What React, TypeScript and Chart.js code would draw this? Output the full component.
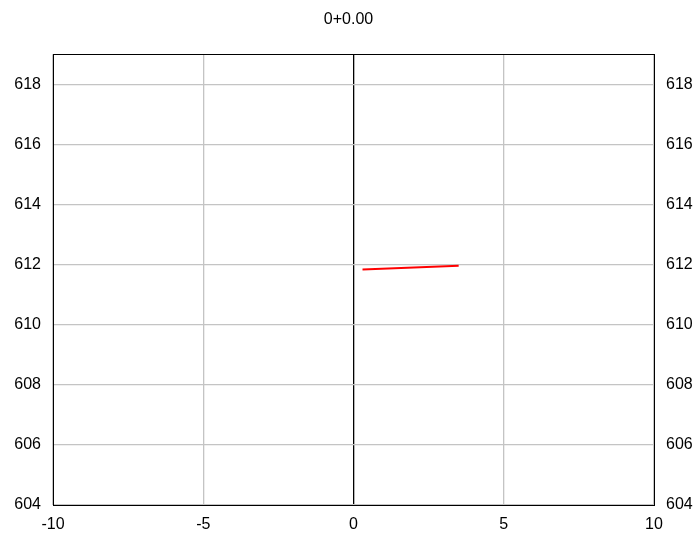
import React, { useEffect, useRef } from "react";
import { Chart, registerables } from "chart.js";

Chart.register(...registerables);

const titleText = "0+0.00";
const xTicks = [-10, -5, 0, 5, 10];
const yTicks = [604, 606, 608, 610, 612, 614, 616, 618];
const lineX = [0.3, 3.5];
const lineY = [611.84, 611.96];

const frame = {
  id: "frame",
  afterDraw(chart: any) {
    const { ctx, chartArea } = chart;
    ctx.save();
    ctx.strokeStyle = "#000";
    ctx.lineWidth = 1;
    ctx.strokeRect(
      Math.round(chartArea.left) + 0.5,
      Math.round(chartArea.top) + 0.5,
      Math.round(chartArea.right - chartArea.left),
      Math.round(chartArea.bottom - chartArea.top)
    );
    ctx.restore();
  },
};

export default function App() {
  const ref = useRef<HTMLCanvasElement>(null);
  useEffect(() => {
    if (!ref.current) return;
    Chart.defaults.font.family = "'Liberation Sans', Arial, sans-serif";
    Chart.defaults.font.size = 16;
    Chart.defaults.color = "#000";
    const yTickFn = (scale: any) => {
      scale.ticks = yTicks.map((v) => ({ value: v }));
    };
    const chart = new Chart(ref.current, {
      type: "line",
      data: {
        datasets: [
          {
            data: lineX.map((x, i) => ({ x, y: lineY[i] })),
            borderColor: "#ff0000",
            borderWidth: 2,
            pointRadius: 0,
            fill: false,
          },
        ],
      },
      options: {
        animation: false,
        responsive: false,
        layout: { padding: 0 },
        plugins: {
          legend: { display: false },
          tooltip: { enabled: false },
          title: {
            display: true,
            text: titleText,
            color: "#000",
            font: { size: 16, weight: "normal" },
            padding: { top: 10, bottom: 25 },
          },
        },
        scales: {
          x: {
            type: "linear",
            min: -10,
            max: 10,
            afterBuildTicks: (scale: any) => {
              scale.ticks = xTicks.map((v) => ({ value: v }));
            },
            afterFit: (scale: any) => {
              scale.height = 31;
            },
            ticks: { padding: 10, maxRotation: 0 },
            grid: {
              drawTicks: false,
              color: (c: any) => (c.tick && c.tick.value === 0 ? "#000" : "#c4c4c4"),
              lineWidth: 1.3,
            },
            border: { display: true, color: "#000" },
          },
          y: {
            type: "linear",
            position: "left",
            min: 604,
            max: 619,
            afterBuildTicks: yTickFn,
            afterFit: (scale: any) => {
              scale.width = 53;
            },
            ticks: { padding: 12 },
            grid: { drawTicks: false, color: "#c4c4c4", lineWidth: 1.3 },
            border: { display: true, color: "#000" },
          },
          y2: {
            type: "linear",
            position: "right",
            min: 604,
            max: 619,
            afterBuildTicks: yTickFn,
            afterFit: (scale: any) => {
              scale.width = 43;
            },
            ticks: { padding: 12 },
            grid: { display: false, drawTicks: false },
            border: { display: true, color: "#000" },
          },
        },
      },
      plugins: [frame],
    });
    return () => chart.destroy();
  }, []);
  return (
    <div style={{ position: "absolute", left: 0, top: 0, width: 697, height: 536, background: "#fff" }}>
      <canvas ref={ref} width={697} height={536} />
    </div>
  );
}
